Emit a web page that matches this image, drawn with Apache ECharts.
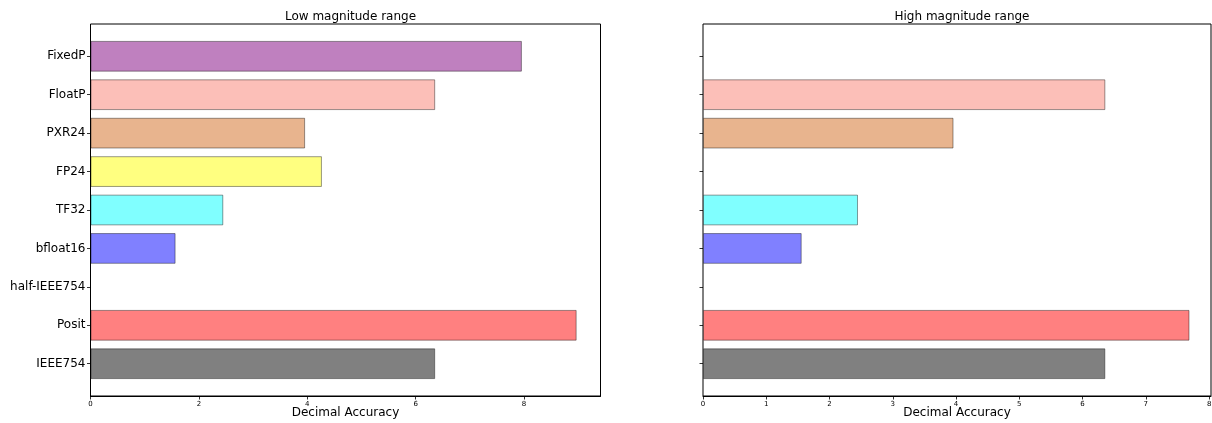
<!DOCTYPE html>
<html>
<head>
<meta charset="utf-8">
<script src="https://cdn.jsdelivr.net/npm/echarts@6/dist/echarts.min.js"></script>
<style>
  html, body { margin: 0; padding: 0; background: #fff; }
  #chart { width: 1212px; height: 423px; }
</style>
</head>
<body>
<div id="chart"></div>
<script>
// Number formats, listed top to bottom
const categories = ['FixedP', 'FloatP', 'PXR24', 'FP24', 'TF32', 'bfloat16', 'half-IEEE754', 'Posit', 'IEEE754'];
// Decimal accuracy per format (null = not available for that range)
const lowRange  = [7.96, 6.36, 3.96, 4.27, 2.45, 1.57, null, 8.97, 6.36];
const highRange = [null, 6.36, 3.96, null, 2.45, 1.56, null, 7.69, 6.36];
const barColors = ['#bf80bf', '#fcbfb8', '#e8b48e', '#ffff80', '#80ffff', '#8080ff', '#80c080', '#ff8080', '#808080'];
const panelTitles = ['Low magnitude range', 'High magnitude range'];
const lowTicks = [0, 2, 4, 6, 8];
const highTicks = [0, 1, 2, 3, 4, 5, 6, 7, 8];
const xLabel = 'Decimal Accuracy';

const FONT = 'DejaVu Sans';
const chart = echarts.init(document.getElementById('chart'), null, { renderer: 'canvas' });

// panel geometry: frame box and the band area holding the categories
const panels = [
  { left: 90.5, width: 510, xMax: 9.41, ticks: lowTicks, data: lowRange, showNames: true },
  { left: 703, width: 508, xMax: 8.03, ticks: highTicks, data: highRange, showNames: false }
];
const frameTop = 24, frameHeight = 372;
const band = frameHeight / 9.68;          // y-limits span -0.84 .. 8.84 category units
const barsTop = frameTop + 0.34 * band;
const barsHeight = 9 * band;

const grid = [], xAxis = [], yAxis = [], series = [], title = [];
panels.forEach((p, i) => {
  const gFrame = i * 2, gBars = i * 2 + 1;
  grid.push({ left: p.left, top: frameTop, width: p.width, height: frameHeight,
              show: true, borderColor: '#000', borderWidth: 1, backgroundColor: 'transparent',
              containLabel: false, outerBoundsMode: 'none' });
  grid.push({ left: p.left, top: barsTop, width: p.width, height: barsHeight,
              containLabel: false, outerBoundsMode: 'none' });

  title.push({ text: panelTitles[i], left: p.left + p.width / 2, top: 6, textAlign: 'center',
               textStyle: { fontFamily: FONT, fontSize: 12, fontWeight: 'normal', color: '#000' } });

  xAxis.push({
    type: 'value', gridIndex: gFrame, min: 0, max: p.xMax, position: 'bottom',
    axisLine: { show: true, onZero: false, lineStyle: { color: '#000', width: 1 } },
    axisTick: { show: true, inside: false, length: 3.5, customValues: p.ticks,
                lineStyle: { color: '#000', width: 0.8 } },
    axisLabel: { fontFamily: FONT, fontSize: 7, color: '#000', margin: 5, customValues: p.ticks },
    splitLine: { show: false },
    name: xLabel, nameLocation: 'middle', nameGap: 11, nameMoveOverlap: false,
    nameTextStyle: { fontFamily: FONT, fontSize: 12, color: '#000' }
  });
  xAxis.push({ type: 'value', gridIndex: gBars, min: 0, max: p.xMax, show: false });

  yAxis.push({ type: 'value', gridIndex: gFrame, min: 0, max: 1, show: false });
  yAxis.push({
    type: 'category', gridIndex: gBars, data: categories, inverse: true,
    axisLine: { show: false },
    axisTick: { show: true, alignWithLabel: true, length: 3.5, lineStyle: { color: '#000', width: 0.8 } },
    axisLabel: { show: p.showNames, fontFamily: FONT, fontSize: 12, color: '#000', margin: 5 },
    splitLine: { show: false }
  });

  series.push({
    type: 'bar', xAxisIndex: gBars, yAxisIndex: gBars, barWidth: '80%',
    data: p.data.map((v, k) => ({
      value: v === null ? '-' : v,
      itemStyle: { color: barColors[k], borderColor: 'rgba(0,0,0,0.4)', borderWidth: 1 }
    })),
    silent: true, animation: false
  });
});

chart.setOption({
  animation: false,
  backgroundColor: '#fff',
  textStyle: { fontFamily: FONT },
  title, grid, xAxis, yAxis, series
});
</script>
</body>
</html>
